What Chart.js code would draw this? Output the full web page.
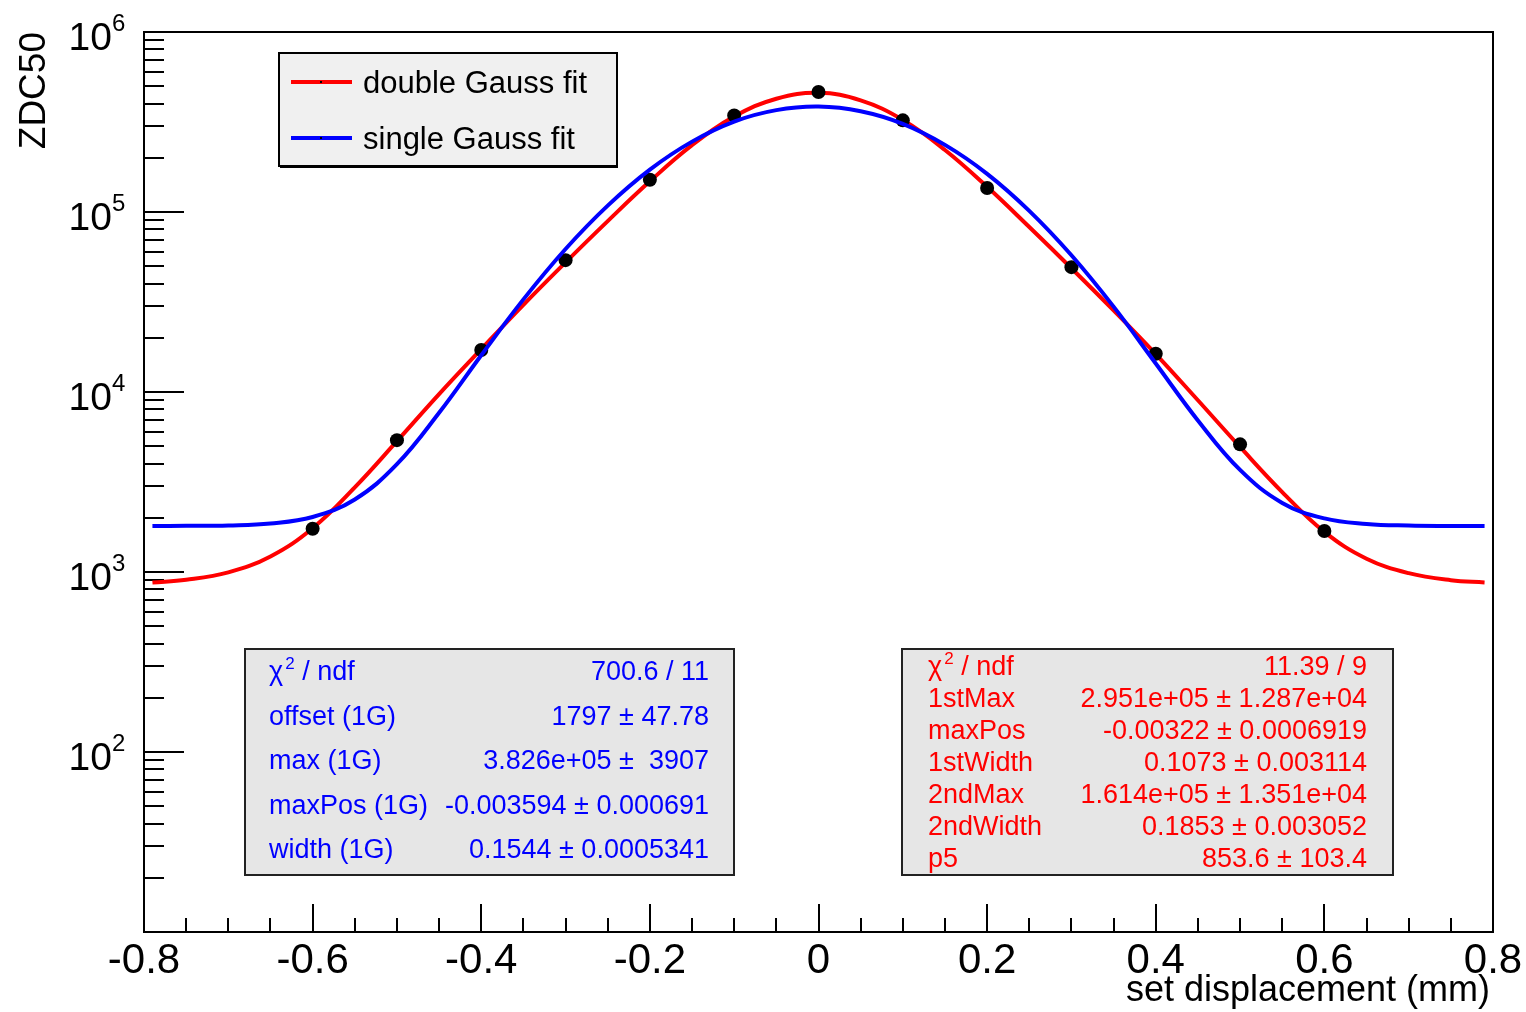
<!DOCTYPE html>
<html lang="en">
<head>
<meta charset="UTF-8">
<title>ZDC50 vs set displacement</title>
<script src="https://cdn.jsdelivr.net/npm/chart.js@4.4.1/dist/chart.umd.min.js"></script>
<style>
  html, body { margin: 0; padding: 0; background: #fff; }
  #wrap { width: 1526px; height: 1012px; }
</style>
</head>
<body>
<div id="wrap"><canvas id="zdcChart" width="1526" height="1012"></canvas></div>
<script>
// measured scan points (ZDC50 rate vs displacement)
const scanX = [-0.6, -0.5, -0.4, -0.3, -0.2, -0.1, 0, 0.1, 0.2, 0.3, 0.4, 0.5, 0.6];
const zdcRate = [1740, 5400, 17100, 54000, 151000, 344000, 464000, 323000, 136000, 49400, 16300, 5120, 1690];

// fit curves, every 0.05 mm
const fitX = [-0.79, -0.75, -0.7, -0.65, -0.6, -0.55, -0.5, -0.45, -0.4, -0.35, -0.3, -0.25, -0.2, -0.15, -0.1, -0.05,
  0, 0.05, 0.1, 0.15, 0.2, 0.25, 0.3, 0.35, 0.4, 0.45, 0.5, 0.55, 0.6, 0.65, 0.7, 0.75, 0.79];
const doubleGauss = [875, 905, 995, 1220, 1750, 2950, 5330, 9730, 17300, 30500, 52500, 89000, 148000, 235000, 339000, 426000,
  459000, 417000, 325000, 221000, 138000, 82500, 48700, 28400, 16250, 9000, 4950, 2780, 1670, 1185, 985, 900, 875];
const singleGauss = [1800, 1805, 1815, 1860, 2020, 2530, 3970, 7660, 16000, 32700, 62300, 108500, 172000, 246000, 318000, 368000,
  385000, 363000, 309000, 236000, 163000, 101500, 57500, 29800, 14400, 6950, 3690, 2420, 1985, 1850, 1812, 1802, 1800];

// axis labels
const xTickValues = [-0.8, -0.6, -0.4, -0.2, 0, 0.2, 0.4, 0.6, 0.8];
const xTickLabels = ['-0.8', '-0.6', '-0.4', '-0.2', '0', '0.2', '0.4', '0.6', '0.8'];
const yDecades = [1, 2, 3, 4, 5];
const yLabelExponents = [2, 3, 4, 5, 6];

// fit result boxes
const stats1GNames = ['chi2', 'offset (1G)', 'max (1G)', 'maxPos (1G)', 'width (1G)'];
const stats1GValues = ['700.6 / 11', '1797 \u00b1 47.78', '3.826e+05 \u00b1  3907', '-0.003594 \u00b1 0.000691', '0.1544 \u00b1 0.0005341'];
const stats2GNames = ['chi2', '1stMax', 'maxPos', '1stWidth', '2ndMax', '2ndWidth', 'p5'];
const stats2GValues = ['11.39 / 9', '2.951e+05 \u00b1 1.287e+04', '-0.00322 \u00b1 0.0006919', '0.1073 \u00b1 0.003114',
  '1.614e+05 \u00b1 1.351e+04', '0.1853 \u00b1 0.003052', '853.6 \u00b1 103.4'];

const FONT = '"Liberation Sans", Arial, Helvetica, sans-serif';

function seg(ctx, x1, y1, x2, y2) {
  ctx.beginPath();
  ctx.moveTo(x1, y1);
  ctx.lineTo(x2, y2);
  ctx.stroke();
}

function drawChiLabel(ctx, x, base, size) {
  ctx.textAlign = 'left';
  ctx.font = size + 'px ' + FONT;
  ctx.fillText('\u03c7', x, base);
  let cx = x + ctx.measureText('\u03c7').width + 2;
  ctx.font = Math.round(size * 0.62) + 'px ' + FONT;
  ctx.fillText('2', cx, base - size * 0.4);
  cx += ctx.measureText('2').width;
  ctx.font = size + 'px ' + FONT;
  ctx.fillText(' / ndf', cx, base);
}

function drawStatBox(ctx, box, names, values, color) {
  ctx.save();
  ctx.fillStyle = '#e6e6e6';
  ctx.fillRect(box.x, box.y, box.w, box.h);
  ctx.strokeStyle = '#222';
  ctx.lineWidth = 2;
  ctx.strokeRect(box.x, box.y, box.w, box.h);
  ctx.fillStyle = color;
  ctx.textBaseline = 'alphabetic';
  names.forEach((n, i) => {
    const base = box.first + i * box.step;
    if (n === 'chi2') {
      drawChiLabel(ctx, box.textLeft, base, 27);
    } else {
      ctx.font = '27px ' + FONT;
      ctx.textAlign = 'left';
      ctx.fillText(n, box.textLeft, base);
    }
    ctx.font = '27px ' + FONT;
    ctx.textAlign = 'right';
    ctx.fillText(values[i], box.textRight, base);
  });
  ctx.restore();
}

const rootStyle = {
  id: 'rootStyle',
  beforeDatasetsDraw(chart) {
    const { ctx, chartArea: a, scales: { x, y } } = chart;
    ctx.save();
    ctx.strokeStyle = '#000';
    ctx.lineWidth = 2;
    // y ticks, pointing inward
    yDecades.forEach(d => {
      for (let k = 1; k <= 9; k++) {
        const py = Math.round(y.getPixelForValue(k * Math.pow(10, d)));
        seg(ctx, a.left, py, a.left + (k === 1 ? 40 : 20), py);
      }
    });
    seg(ctx, a.left, a.top, a.left + 40, a.top);
    // x ticks
    for (let i = -16; i <= 16; i++) {
      const px = Math.round(x.getPixelForValue(i * 0.05));
      seg(ctx, px, a.bottom, px, a.bottom - (i % 4 === 0 ? 28 : 14));
    }
    // frame
    ctx.strokeRect(a.left, a.top, a.right - a.left, a.bottom - a.top);

    // tick labels
    ctx.fillStyle = '#000';
    ctx.textBaseline = 'alphabetic';
    ctx.font = '42px ' + FONT;
    ctx.textAlign = 'center';
    xTickValues.forEach((v, i) => {
      ctx.fillText(xTickLabels[i], x.getPixelForValue(v), 973);
    });
    yLabelExponents.forEach(e => {
      const py = y.getPixelForValue(Math.pow(10, e));
      ctx.font = '39px ' + FONT;
      ctx.textAlign = 'right';
      ctx.fillText('10', 112, py + 18);
      ctx.font = '24px ' + FONT;
      ctx.textAlign = 'left';
      ctx.fillText(String(e), 112, py - 1);
    });

    // axis titles
    ctx.font = '36px ' + FONT;
    ctx.textAlign = 'right';
    ctx.fillText('set displacement (mm)', 1490, 1001);
    ctx.save();
    ctx.translate(45, 32);
    ctx.rotate(-Math.PI / 2);
    ctx.font = '37px ' + FONT;
    ctx.textAlign = 'right';
    ctx.fillText('ZDC50', 0, 0);
    ctx.restore();
    ctx.restore();
  },
  afterDatasetsDraw(chart) {
    const { ctx } = chart;
    // legend
    ctx.save();
    ctx.fillStyle = '#f0f0f0';
    ctx.fillRect(279, 53, 338, 113);
    ctx.strokeStyle = '#000';
    ctx.lineWidth = 2;
    ctx.strokeRect(279, 53, 338, 113);
    seg(ctx, 280, 167, 618, 167);
    const entries = ['double Gauss fit', 'single Gauss fit'];
    entries.forEach((lab, i) => {
      const ds = chart.data.datasets.find(d => d.label === lab);
      const ly = 82 + i * 56;
      ctx.strokeStyle = ds.borderColor;
      ctx.lineWidth = 4;
      seg(ctx, 291, ly, 352, ly);
      ctx.fillStyle = '#000';
      ctx.fillRect(320, ly - 1, 2, 2);
      ctx.font = '31px ' + FONT;
      ctx.textAlign = 'left';
      ctx.textBaseline = 'alphabetic';
      ctx.fillText(ds.label, 363, ly + 11);
    });
    ctx.restore();

    drawStatBox(ctx, { x: 245, y: 649, w: 489, h: 226, textLeft: 269, textRight: 709, first: 680, step: 44.5 },
      stats1GNames, stats1GValues, '#0000ff');
    drawStatBox(ctx, { x: 902, y: 649, w: 491, h: 226, textLeft: 928, textRight: 1367, first: 675, step: 32 },
      stats2GNames, stats2GValues, '#ff0000');
  }
};

new Chart(document.getElementById('zdcChart'), {
  type: 'scatter',
  data: {
    datasets: [
      {
        label: 'single Gauss fit',
        data: fitX.map((v, i) => ({ x: v, y: singleGauss[i] })),
        showLine: true,
        borderColor: '#0000ff',
        borderWidth: 4,
        pointRadius: 0,
        tension: 0.4,
        order: 0
      },
      {
        label: 'ZDC50',
        data: scanX.map((v, i) => ({ x: v, y: zdcRate[i] })),
        showLine: false,
        pointRadius: 7,
        pointBackgroundColor: '#000',
        pointBorderWidth: 0,
        order: 1
      },
      {
        label: 'double Gauss fit',
        data: fitX.map((v, i) => ({ x: v, y: doubleGauss[i] })),
        showLine: true,
        borderColor: '#ff0000',
        borderWidth: 4,
        pointRadius: 0,
        tension: 0.4,
        order: 2
      }
    ]
  },
  options: {
    responsive: false,
    animation: false,
    layout: { padding: { left: 144, top: 32, right: 33, bottom: 80 } },
    plugins: { legend: { display: false }, tooltip: { enabled: false } },
    scales: {
      x: { type: 'linear', min: -0.8, max: 0.8, display: false },
      y: { type: 'logarithmic', min: 10, max: 1e6, display: false }
    }
  },
  plugins: [rootStyle]
});
</script>
</body>
</html>
